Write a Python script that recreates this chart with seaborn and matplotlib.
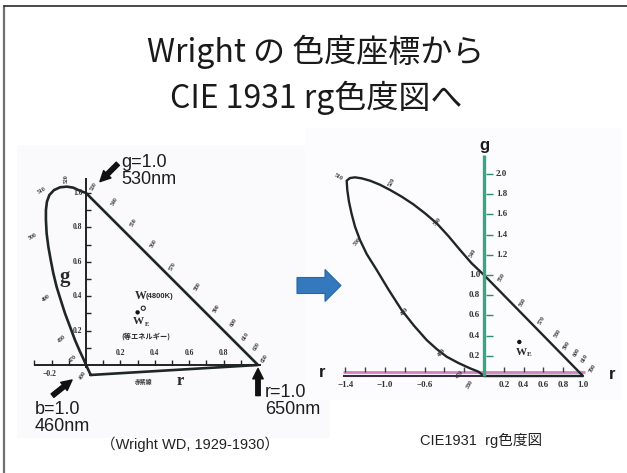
import matplotlib
matplotlib.use("Agg")
import matplotlib.pyplot as plt
import numpy as np
import pandas as pd
import seaborn as sns
from matplotlib.patches import Rectangle, Polygon
from matplotlib.lines import Line2D

# ---------------------------------------------------------------------------
# Wright (1929-1930) r,g chromaticity diagram: spectral locus + purple line
wright_r = [0.027, 0.014, 0.0, -0.012, -0.035, -0.064, -0.093, -0.122, -0.147,
            -0.171, -0.190, -0.205, -0.219, -0.229, -0.233, -0.233, -0.227,
            -0.213, -0.186, -0.151, -0.112, -0.074, -0.035, 0.0, 1.0, 0.027]
wright_g = [-0.058, -0.029, 0.0, 0.029, 0.078, 0.145, 0.223, 0.300, 0.378,
            0.455, 0.533, 0.610, 0.688, 0.766, 0.843, 0.901, 0.950,
            0.988, 1.017, 1.033, 1.037, 1.031, 1.013, 1.0, 0.0, -0.058]

wright_wl = ["530", "540", "550", "560", "570", "580", "590", "600", "610",
             "620", "650", "520", "510", "500", "490", "480", "470", "400"]
wright_wl_r = [0.047, 0.169, 0.275, 0.391, 0.504, 0.647, 0.760, 0.857, 0.930,
               0.992, 1.041, -0.112, -0.258, -0.306, -0.229, -0.141, -0.078, -0.016]
wright_wl_g = [1.037, 0.950, 0.828, 0.707, 0.576, 0.455, 0.330, 0.246, 0.165,
               0.107, 0.039, 1.085, 1.017, 0.746, 0.388, 0.155, 0.039, -0.058]
wright_wl_rot = [60, 60, 60, 60, 60, 60, 60, 60, 60, 60, 60,
                 90, 30, 30, 40, 45, 45, 60]

wright_g_ticks = [0.2, 0.4, 0.6, 0.8, 1.0]
wright_r_ticks = [0.2, 0.4, 0.6, 0.8]
wright_minor = [0.1, 0.2, 0.3, 0.4, 0.5, 0.6, 0.7, 0.8, 0.9, 1.0]
wright_r_minor = [-0.2, -0.1, 0.1, 0.2, 0.3, 0.4, 0.5, 0.6, 0.7, 0.8, 0.9]

# white points in Wright's diagram
w_equal = (0.30, 0.306)
w_4800k = (0.333, 0.33)

# ---------------------------------------------------------------------------
# CIE 1931 r,g chromaticity diagram: spectral locus + purple line
cie_r = [0.0, -0.057, -0.141, -0.259, -0.377, -0.478, -0.579, -0.707, -0.832,
         -0.966, -1.084, -1.185, -1.253, -1.303, -1.337, -1.364, -1.381, -1.387,
         -1.354, -1.303, -1.236, -1.152, -1.051, -0.949, -0.832, -0.714, -0.596,
         -0.478, -0.360, -0.242, -0.125, 0.0, 1.0, 0.0]
cie_g = [0.0, 0.043, 0.076, 0.129, 0.191, 0.267, 0.356, 0.498, 0.653,
         0.858, 1.050, 1.208, 1.347, 1.479, 1.604, 1.726, 1.842, 1.934,
         1.960, 1.967, 1.957, 1.934, 1.894, 1.842, 1.776, 1.700, 1.611,
         1.512, 1.386, 1.248, 1.116, 1.0, 0.0, 0.0]

cie_wl = ["510", "520", "530", "540", "500", "490", "480", "470", "380",
          "550", "560", "570", "580", "590", "600", "610", "700"]
cie_wl_r = [-1.465, -0.929, -0.465, -0.111, -1.273, -0.798, -0.424, -0.242, -0.141,
            0.182, 0.394, 0.586, 0.747, 0.838, 0.939, 1.020, 1.101]
cie_wl_g = [1.970, 1.921, 1.525, 1.218, 1.327, 0.634, 0.228, 0.010, -0.080,
            0.980, 0.733, 0.554, 0.426, 0.307, 0.238, 0.178, 0.079]
cie_wl_rot = [-30, 60, 50, 60, 50, 50, 50, 50, 60,
              60, 60, 60, 60, 60, 60, 60, 60]

cie_g_ticks = [0.2, 0.4, 0.6, 0.8, 1.0, 1.2, 1.4, 1.6, 1.8, 2.0]
cie_r_labels = [-1.4, -1.0, -0.6, 0.2, 0.4, 0.6, 0.8, 1.0]
cie_r_ticks = [-1.4, -1.2, -1.0, -0.8, -0.6, -0.4, -0.2, 0.2, 0.4, 0.6, 0.8]
cie_w_equal = (0.357, 0.337)

# ---------------------------------------------------------------------------
sns.set_style("white")
plt.rcParams["font.family"] = ["Liberation Sans", "Noto Sans CJK JP", "DejaVu Sans"]
SERIF = ["Liberation Serif", "DejaVu Serif"]
SANS = ["Liberation Sans", "Noto Sans CJK JP", "DejaVu Sans"]
TITLE = ["Noto Sans CJK JP", "DejaVu Sans"]
INK = "#1f2626"

W, H = 627, 473
fig = plt.figure(figsize=(W / 100, H / 100), dpi=100)
fig.patch.set_facecolor("white")


def fx(px):
    return px / W


def fy(py):
    return 1 - py / H


def place_axes(x0, y0, x1, y1):
    ax = fig.add_axes([fx(x0), fy(y1), (x1 - x0) / W, (y1 - y0) / H])
    ax.set_facecolor("none")
    for s in ax.spines.values():
        s.set_visible(False)
    return ax


def strip(ax, xlim, ylim):
    ax.set_xlim(*xlim)
    ax.set_ylim(*ylim)
    ax.set_xticks([])
    ax.set_yticks([])
    ax.set_xlabel("")
    ax.set_ylabel("")
    if ax.get_legend() is not None:
        ax.get_legend().remove()


# slide frame
fig.add_artist(Line2D([fx(4), fx(4)], [fy(6), 0], color="#707070", lw=1.6))
fig.add_artist(Line2D([fx(4), 1], [fy(6.5), fy(6.5)], color="#2a2a2a", lw=1.2))

# scanned picture backgrounds
fig.add_artist(Rectangle((fx(17), fy(438)), 313 / W, 293 / H,
                         transform=fig.transFigure, fc="#fafafc", ec="none", zorder=-2))
fig.add_artist(Rectangle((fx(305), fy(400)), 317 / W, 272 / H,
                         transform=fig.transFigure, fc="#fcfcfe", ec="none", zorder=-2))

# title
fig.text(fx(316), fy(52), "Wright の 色度座標から", ha="center", va="center",
         fontsize=23, family=TITLE, color="#1a1a1a")
fig.text(fx(316), fy(98), "CIE 1931 rg色度図へ", ha="center", va="center",
         fontsize=23, family=TITLE, color="#1a1a1a")

# captions
fig.text(fx(190), fy(444), "（Wright WD, 1929-1930）", ha="center", va="center",
         fontsize=10.5, family=SANS, color="#222222")
fig.text(fx(481), fy(440), "CIE1931  rg色度図", ha="center", va="center",
         fontsize=10.5, family=SANS, color="#222222")

# ---------------------------------------------------------------------------
# left: Wright diagram
axL = place_axes(17, 140, 330, 440)
df_w = pd.DataFrame({"r": wright_r, "g": wright_g})
sns.lineplot(data=df_w, x="r", y="g", sort=False, estimator=None,
             color=INK, lw=1.9, ax=axL)
axL.plot([-0.3, 1.02], [0, 0], color="#222222", lw=1.4, solid_capstyle="butt")
axL.plot([0, 0], [-0.02, 1.09], color="#222222", lw=1.4, solid_capstyle="butt")
axL.vlines(wright_r_minor, 0, 0.028, color="#222222", lw=1.0)
axL.vlines([-0.3], 0, 0.03, color="#222222", lw=1.0)
axL.hlines(wright_minor, 0, 0.028, color="#222222", lw=1.0)

for v in wright_g_ticks:
    axL.text(-0.02, v, f"{v:.1f}", ha="right", va="center", fontsize=5.5,
             family=SERIF, weight="bold", color="#333333")
for v in wright_r_ticks:
    axL.text(v, 0.045, f"{v:.1f}", ha="center", va="bottom", fontsize=5.5,
             family=SERIF, weight="bold", color="#333333")
axL.text(-0.21, -0.05, "\u22120.2", ha="center", va="center", fontsize=5.5,
         family=SERIF, weight="bold", color="#333333")

for lab, r, g, rot in zip(wright_wl, wright_wl_r, wright_wl_g, wright_wl_rot):
    axL.text(r, g, lab, ha="center", va="center", fontsize=4.2, rotation=rot,
             family=SERIF, weight="bold", color="#333333")

axL.text(-0.122, 0.51, "g", ha="center", va="center", fontsize=15,
         family=SERIF, weight="bold", color="#2a2a2a")
axL.text(0.55, -0.095, "r", ha="center", va="center", fontsize=12,
         family=SERIF, weight="bold", color="#2a2a2a")
axL.text(0.335, -0.098, "赤紫線", ha="center", va="center", fontsize=4.2,
         family=["Noto Sans CJK JP"], weight="bold", color="#333333")

sns.scatterplot(x=[w_equal[0]], y=[w_equal[1]], color="#111111", s=10,
                edgecolor="none", ax=axL)
axL.scatter([w_4800k[0]], [w_4800k[1]], s=9, facecolors="none",
            edgecolors="#222222", linewidths=0.8)
axL.text(0.32, 0.40, "W", ha="center", va="center", fontsize=8.5,
         family=SERIF, weight="bold", color="#2a2a2a")
axL.text(0.345, 0.40, "(4800K)", ha="left", va="center", fontsize=5.5,
         family=SANS, weight="bold", color="#2a2a2a")
axL.text(0.305, 0.252, "W", ha="center", va="center", fontsize=8,
         family=SERIF, weight="bold", color="#2a2a2a")
axL.text(0.342, 0.238, "E", ha="left", va="center", fontsize=4.8,
         family=SERIF, weight="bold", color="#2a2a2a")
axL.text(0.35, 0.165, "(等エネルギー)", ha="center", va="center", fontsize=5.2,
         family=["Noto Sans CJK JP"], weight="bold", color="#2a2a2a")

arrow = dict(arrowstyle="simple,head_length=0.75,head_width=0.75,tail_width=0.32",
             fc="#111111", ec="#111111", shrinkA=0, shrinkB=0)
axL.annotate("", xy=(0.081, 1.066), xytext=(0.185, 1.17), arrowprops=arrow)
axL.annotate("", xy=(-0.081, -0.087), xytext=(-0.195, -0.178), arrowprops=arrow)
axL.annotate("", xy=(1.0, -0.02), xytext=(1.0, -0.178), arrowprops=arrow)

label_kw = dict(ha="left", va="center", fontsize=13, family=SANS,
                color="#1e1e1e", linespacing=1.0)
axL.text(0.205, 1.128, "g=1.0\n530nm", **label_kw)
axL.text(-0.297, -0.308, "b=1.0\n460nm", **label_kw)
axL.text(1.04, -0.209, "r=1.0\n650nm", **label_kw)

strip(axL, ((17 - 86) / 172, (330 - 86) / 172), ((365 - 440) / 172, (365 - 140) / 172))

# ---------------------------------------------------------------------------
# right: CIE 1931 rg diagram
axR = place_axes(300, 128, 622, 400)
df_c = pd.DataFrame({"r": cie_r, "g": cie_g})
axR.plot([-1.42, 1.02], [0.035, 0.035], color="#d67fc2", lw=2.0, solid_capstyle="butt")
axR.plot([-1.42, 1.0], [0.0, 0.0], color="#3b2a3f", lw=1.5, solid_capstyle="butt")
sns.lineplot(data=df_c, x="r", y="g", sort=False, estimator=None,
             color=INK, lw=1.7, ax=axR)
axR.plot([0, 0], [0.0, 2.19], color="#3aa67e", lw=2.4, solid_capstyle="butt")
axR.hlines(cie_g_ticks, 0.02, 0.09, color="#2d8c68", lw=1.0)
axR.vlines(cie_r_ticks, 0.035, 0.09, color="#4a3a4a", lw=1.0)

for v in cie_g_ticks:
    if v > 1.05:
        axR.text(0.12, v, f"{v:.1f}", ha="left", va="center", fontsize=6.5,
                 family=SERIF, weight="bold", color="#333333")
    else:
        axR.text(-0.04, v, f"{v:.1f}", ha="right", va="center", fontsize=6.5,
                 family=SERIF, weight="bold", color="#333333")
for v in cie_r_labels:
    txt = f"{v:.1f}".replace("-", "\u2212")
    axR.text(v, -0.085, txt, ha="center", va="center", fontsize=6.5,
             family=SERIF, weight="bold", color="#333333")

for lab, r, g, rot in zip(cie_wl, cie_wl_r, cie_wl_g, cie_wl_rot):
    axR.text(r, g, lab, ha="center", va="center", fontsize=4.3, rotation=rot,
             family=SERIF, weight="bold", color="#333333")

axR.text(0.0, 2.287, "g", ha="center", va="center", fontsize=12,
         family=SANS, weight="bold", color="#1a1a1a")
axR.text(-1.636, 0.03, "r", ha="center", va="center", fontsize=12,
         family=SANS, weight="bold", color="#1a1a1a")
axR.text(1.293, 0.01, "r", ha="center", va="center", fontsize=12,
         family=SANS, weight="bold", color="#1a1a1a")

sns.scatterplot(x=[cie_w_equal[0]], y=[cie_w_equal[1]], color="#111111", s=10,
                edgecolor="none", ax=axR)
axR.text(0.375, 0.235, "W", ha="center", va="center", fontsize=8,
         family=SERIF, weight="bold", color="#2a2a2a")
axR.text(0.43, 0.215, "E", ha="left", va="center", fontsize=5,
         family=SERIF, weight="bold", color="#2a2a2a")

strip(axR, ((300 - 484) / 99, (622 - 484) / 99), ((376 - 400) / 101, (376 - 128) / 101))

# blue block arrow between the two diagrams
arrow_px = [(297, 277.5), (325, 277.5), (325, 269.5), (341, 285.5),
            (325, 301.5), (325, 293.5), (297, 293.5)]
fig.add_artist(Polygon([(fx(x), fy(y)) for x, y in arrow_px], closed=True,
                       transform=fig.transFigure, fc="#3478bd", ec="#2c66a3",
                       lw=0.8, zorder=10))

fig.savefig("out.png", dpi=100)
